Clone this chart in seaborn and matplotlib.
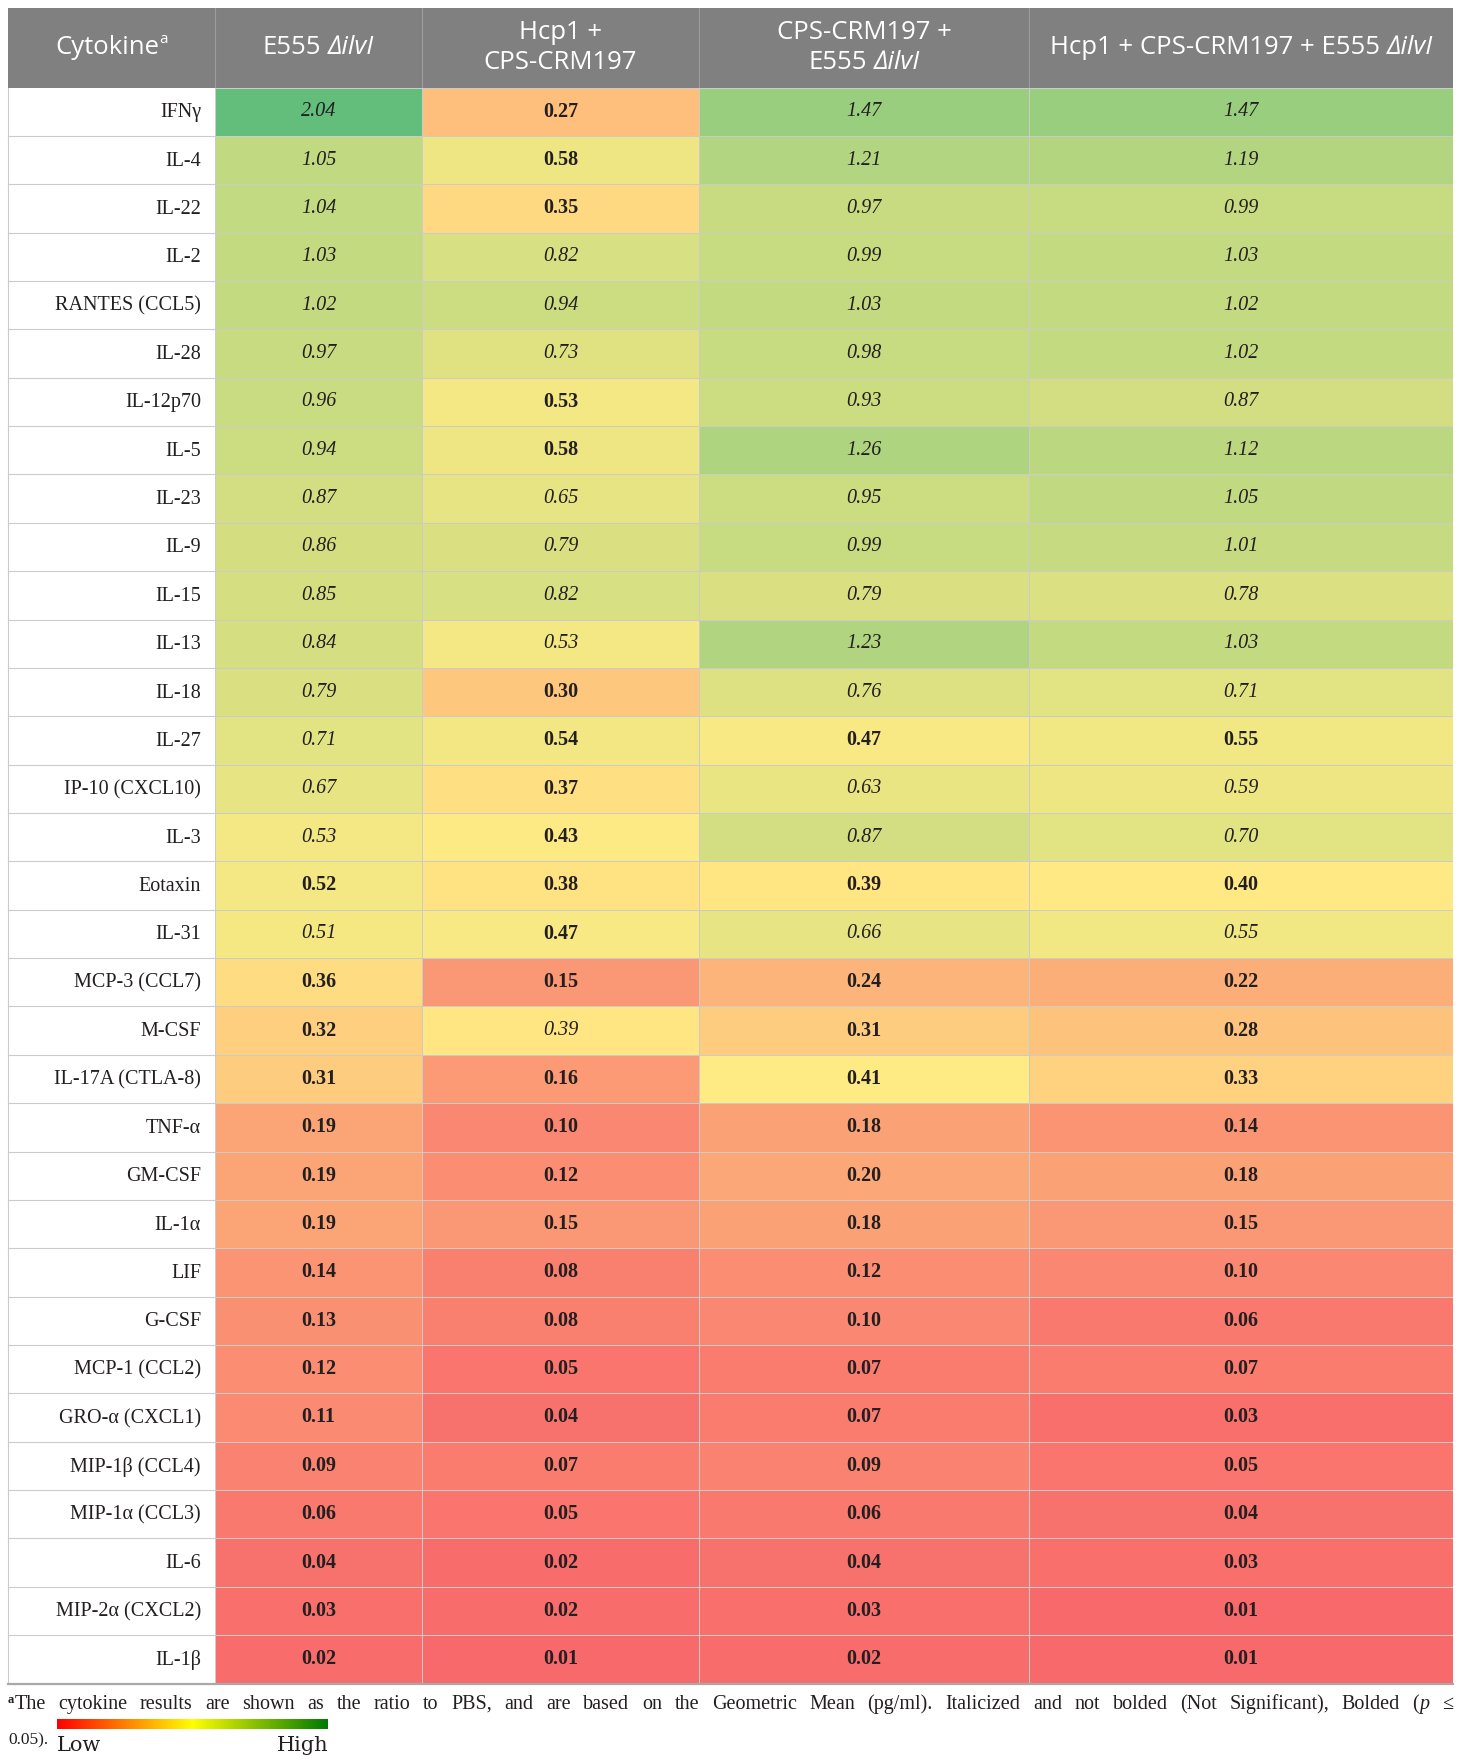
import numpy as np
import pandas as pd
import matplotlib
matplotlib.use("Agg")
import matplotlib.pyplot as plt
from matplotlib.colors import LinearSegmentedColormap, TwoSlopeNorm
from matplotlib.patches import Rectangle
import seaborn as sns

# ---- data (ratio to PBS, geometric mean) ----
cytokines = ["IFNγ", "IL-4", "IL-22", "IL-2", "RANTES (CCL5)", "IL-28", "IL-12p70",
             "IL-5", "IL-23", "IL-9", "IL-15", "IL-13", "IL-18", "IL-27",
             "IP-10 (CXCL10)", "IL-3", "Eotaxin", "IL-31", "MCP-3 (CCL7)", "M-CSF",
             "IL-17A (CTLA-8)", "TNF-α", "GM-CSF", "IL-1α", "LIF", "G-CSF",
             "MCP-1 (CCL2)", "GRO-α (CXCL1)", "MIP-1β (CCL4)", "MIP-1α (CCL3)",
             "IL-6", "MIP-2α (CXCL2)", "IL-1β"]

e555 = [2.04, 1.05, 1.04, 1.03, 1.02, 0.97, 0.96, 0.94, 0.87, 0.86, 0.85, 0.84, 0.79,
        0.71, 0.67, 0.53, 0.52, 0.51, 0.36, 0.32, 0.31, 0.19, 0.19, 0.19, 0.14, 0.13,
        0.12, 0.11, 0.09, 0.06, 0.04, 0.03, 0.02]
hcp1_cps = [0.27, 0.58, 0.35, 0.82, 0.94, 0.73, 0.53, 0.58, 0.65, 0.79, 0.82, 0.53, 0.30,
            0.54, 0.37, 0.43, 0.38, 0.47, 0.15, 0.39, 0.16, 0.10, 0.12, 0.15, 0.08, 0.08,
            0.05, 0.04, 0.07, 0.05, 0.02, 0.02, 0.01]
cps_e555 = [1.47, 1.21, 0.97, 0.99, 1.03, 0.98, 0.93, 1.26, 0.95, 0.99, 0.79, 1.23, 0.76,
            0.47, 0.63, 0.87, 0.39, 0.66, 0.24, 0.31, 0.41, 0.18, 0.20, 0.18, 0.12, 0.10,
            0.07, 0.07, 0.09, 0.06, 0.04, 0.03, 0.02]
all_three = [1.47, 1.19, 0.99, 1.03, 1.02, 1.02, 0.87, 1.12, 1.05, 1.01, 0.78, 1.03, 0.71,
             0.55, 0.59, 0.70, 0.40, 0.55, 0.22, 0.28, 0.33, 0.14, 0.18, 0.15, 0.10, 0.06,
             0.07, 0.03, 0.05, 0.04, 0.03, 0.01, 0.01]

# 1 = bold (p <= 0.05), 0 = italic (not significant)
sig_e555 = [0] * 16 + [1, 0] + [1] * 15
sig_hcp1_cps = [1, 1, 1, 0, 0, 0, 1, 1, 0, 0, 0, 0, 1, 1, 1, 1, 1, 1, 1, 0, 1] + [1] * 12
sig_cps_e555 = [0] * 13 + [1, 0, 0, 1, 0] + [1] * 15
sig_all_three = [0] * 13 + [1, 0, 0, 1, 0] + [1] * 15

columns = ["e555", "hcp1_cps", "cps_e555", "all_three"]
df = pd.DataFrame({"e555": e555, "hcp1_cps": hcp1_cps,
                   "cps_e555": cps_e555, "all_three": all_three}, index=cytokines)
sig = pd.DataFrame({"e555": sig_e555, "hcp1_cps": sig_hcp1_cps,
                    "cps_e555": sig_cps_e555, "all_three": sig_all_three}, index=cytokines)

# ---- layout (pixel units) ----
W, H = 1460, 1764
col_edges = [8, 215, 422, 699, 1029, 1453]
top, head_bot, bottom = 7.5, 87.5, 1683.5
row_h = (bottom - head_bot) / len(cytokines)

HEAD_FONT = ["Open Sans", "DejaVu Sans"]
SERIF = ["Liberation Serif", "DejaVu Serif"]
grid_col = "#cbcbcb"

fig = plt.figure(figsize=(W / 100, H / 100), dpi=100)
renderer = fig.canvas.get_renderer()


def fig_rect(x0, y0, x1, y1):
    return [x0 / W, 1 - y1 / H, (x1 - x0) / W, (y1 - y0) / H]


bg = fig.add_axes([0, 0, 1, 1])
bg.set_xlim(0, W)
bg.set_ylim(H, 0)
bg.axis("off")
bg.set_zorder(0)


def text_width(ax, s, **kw):
    t = ax.text(0, 0, s, **kw)
    w = t.get_window_extent(renderer).width
    t.remove()
    return w


def place_parts(ax, x, y, parts, ha="center"):
    # parts: list of (text, kwargs, dy, gap_before)
    widths = [text_width(ax, p[0], **p[1]) for p in parts]
    space = text_width(ax, "x x", **parts[0][1]) - text_width(ax, "xx", **parts[0][1])
    full = sum(widths) + sum(space for p in parts if p[3])
    x0 = x - full / 2 if ha == "center" else x
    for (s, kw, dy, gap), w in zip(parts, widths):
        if gap:
            x0 += space
        ax.text(x0, y + dy, s, ha="left", **kw)
        x0 += w


# header band
bg.add_patch(Rectangle((col_edges[0], top), col_edges[-1] - col_edges[0], head_bot - top,
                       facecolor="#7f807f", edgecolor="none"))
for xe in col_edges[1:-1]:
    bg.plot([xe, xe], [top, head_bot], color="#9c9d9c", lw=0.8)

hk = dict(family=HEAD_FONT, fontsize=18.5, color="white", va="center")
hk_it = dict(hk, style="italic")
sup = dict(family=HEAD_FONT, fontsize=11, color="white", va="center")
ymid = (top + head_bot) / 2
centers = [(a + b) / 2 for a, b in zip(col_edges[:-1], col_edges[1:])]

place_parts(bg, centers[0], ymid, [("Cytokine", hk, 0, False), ("a", sup, -8, False)])
place_parts(bg, centers[1], ymid, [("E555", hk, 0, False), ("∆ilvI", hk_it, 0, True)])
place_parts(bg, centers[2], ymid - 15, [("Hcp1 +", hk, 0, False)])
place_parts(bg, centers[2], ymid + 15, [("CPS-CRM197", hk, 0, False)])
place_parts(bg, centers[3], ymid - 15, [("CPS-CRM197 +", hk, 0, False)])
place_parts(bg, centers[3], ymid + 15, [("E555", hk, 0, False), ("∆ilvI", hk_it, 0, True)])
place_parts(bg, centers[4], ymid, [("Hcp1 + CPS-CRM197 + E555", hk, 0, False),
                                   ("∆ilvI", hk_it, 0, True)])

# label column
for i, name in enumerate(cytokines):
    yc = head_bot + (i + 0.5) * row_h
    bg.text(col_edges[1] - 14, yc + 1, name, ha="right", va="center",
            family=SERIF, fontsize=14.5, color="#231f20")
    bg.plot([col_edges[0], col_edges[1]], [head_bot + (i + 1) * row_h] * 2,
            color=grid_col, lw=0.8)
bg.plot([col_edges[0], col_edges[0]], [head_bot, bottom], color=grid_col, lw=0.8)

# ---- heat map columns ----
cmap = LinearSegmentedColormap.from_list("xl3", ["#f8696b", "#ffeb84", "#63be7b"])
vals = df.to_numpy().ravel()
norm = TwoSlopeNorm(vmin=vals.min(), vcenter=np.median(vals), vmax=vals.max())

for i, col in enumerate(columns):
    ax = fig.add_axes(fig_rect(col_edges[i + 1], head_bot, col_edges[i + 2], bottom))
    ax.set_zorder(1)
    sns.heatmap(df[[col]], ax=ax, cmap=cmap, norm=norm, cbar=False,
                annot=True, fmt=".2f", linewidths=0.5, linecolor=grid_col,
                xticklabels=False, yticklabels=False,
                annot_kws=dict(color="#231f20", fontsize=14.5, family=SERIF))
    for t, s in zip(ax.texts, sig[col]):
        if s:
            t.set_fontweight("bold")
        else:
            t.set_fontstyle("italic")
    ax.set_xlabel("")
    ax.set_ylabel("")

# ---- foreground: borders, footnote, legend ----
fg = fig.add_axes([0, 0, 1, 1])
fg.set_xlim(0, W)
fg.set_ylim(H, 0)
fg.axis("off")
fg.set_zorder(2)
fg.plot([col_edges[0], col_edges[-1]], [bottom, bottom], color="#a9a9a9", lw=1.6)

fk = dict(family=SERIF, fontsize=14.5, color="#231f20", va="baseline")
fk_it = dict(fk, style="italic")
fk_sup = dict(family=SERIF, fontsize=9, color="#231f20", va="baseline", weight="bold")
line1 = ("cytokine results are shown as the ratio to PBS, and are based on the Geometric "
         "Mean (pg/ml). Italicized and not bolded (Not Significant), Bolded").split()
words = [[("a", fk_sup, -6), ("The", fk, 0)]] + [[(w, fk, 0)] for w in line1] + \
        [[("(", fk, 0), ("p", fk_it, 0)], [("≤", fk, 0)]]
wlens = [sum(text_width(fg, s, **kw) for s, kw, _ in wd) for wd in words]
gap = (col_edges[-1] - col_edges[0] - sum(wlens)) / (len(words) - 1)
x = col_edges[0]
for wd, wl in zip(words, wlens):
    xx = x
    for s, kw, dy in wd:
        fg.text(xx, 1709 + dy, s, ha="left", **kw)
        xx += text_width(fg, s, **kw)
    x += wl + gap

fg.text(8, 1744, "0.05).", ha="left", family=SERIF, fontsize=12.5, color="#231f20",
        va="baseline")

legend_cmap = LinearSegmentedColormap.from_list("lowhigh", ["#ff0000", "#ffff00", "#007a00"])
cax = fig.add_axes(fig_rect(57, 1719, 328, 1729))
cax.imshow(np.linspace(0, 1, 256)[None, :], aspect="auto", cmap=legend_cmap)
cax.axis("off")
fg.text(57, 1751, "Low", ha="left", va="baseline", family="DejaVu Serif", fontsize=15,
        color="#231f20")
fg.text(328, 1751, "High", ha="right", va="baseline", family="DejaVu Serif", fontsize=15,
        color="#231f20")

fig.savefig("out.png", dpi=100)
